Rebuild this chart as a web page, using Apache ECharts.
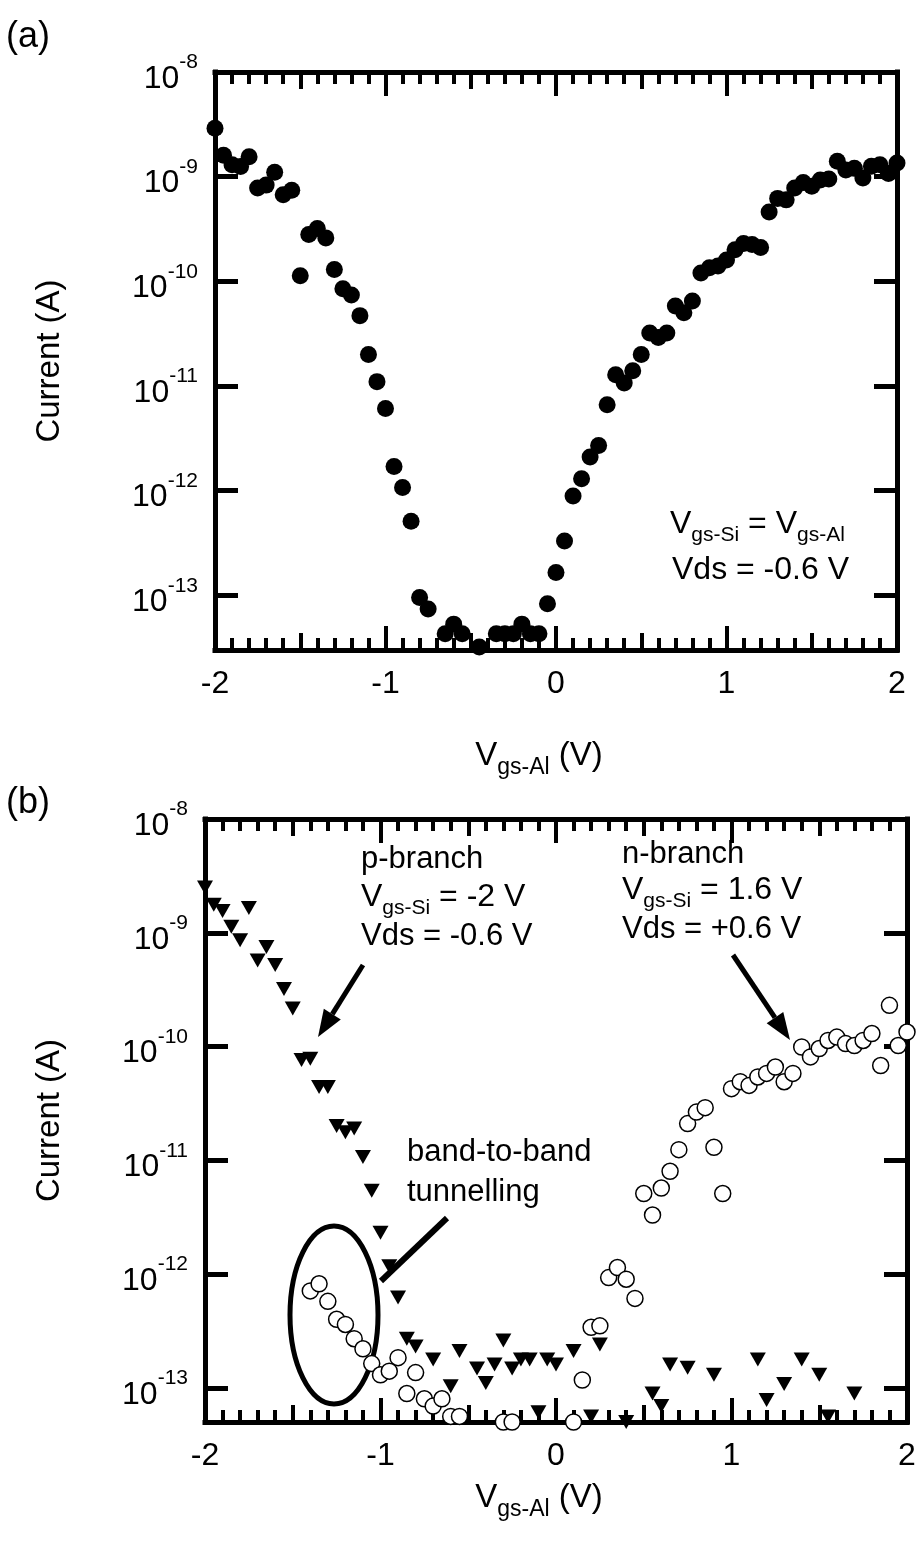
<!DOCTYPE html>
<html>
<head>
<meta charset="utf-8">
<title>Current vs Vgs-Al</title>
<script src="https://cdn.jsdelivr.net/npm/echarts@6/dist/echarts.min.js"></script>
<style>
  html, body { margin: 0; padding: 0; background: #fff; }
  #chart { width: 917px; height: 1542px; }
</style>
</head>
<body>
<div id="chart"></div>
<script>
// ---- data ----
// (a) V_gs-Si = V_gs-Al, Vds = -0.6 V
const vgsA = [-2.00, -1.95, -1.90, -1.85, -1.80, -1.75, -1.70, -1.65, -1.60, -1.55,
  -1.50, -1.45, -1.40, -1.35, -1.30, -1.25, -1.20, -1.15, -1.10, -1.05,
  -1.00, -0.95, -0.90, -0.85, -0.80, -0.75, -0.65, -0.60, -0.55, -0.45,
  -0.35, -0.30, -0.25, -0.20, -0.15, -0.10, -0.05,
  0.00, 0.05, 0.10, 0.15, 0.20, 0.25, 0.30, 0.35, 0.40, 0.45,
  0.50, 0.55, 0.60, 0.65, 0.70, 0.75, 0.80, 0.85, 0.90, 0.95,
  1.00, 1.05, 1.10, 1.15, 1.20, 1.25, 1.30, 1.35, 1.40, 1.45,
  1.50, 1.55, 1.60, 1.65, 1.70, 1.75, 1.80, 1.85, 1.90, 1.95, 2.00];
const currentA = [2.9e-9, 1.6e-9, 1.3e-9, 1.25e-9, 1.55e-9, 7.8e-10, 8.3e-10, 1.1e-9, 6.7e-10, 7.4e-10,
  1.13e-10, 2.8e-10, 3.2e-10, 2.6e-10, 1.3e-10, 8.5e-11, 7.4e-11, 4.7e-11, 2.0e-11, 1.1e-11,
  6.1e-12, 1.7e-12, 1.07e-12, 5.1e-13, 9.5e-14, 7.4e-14, 4.3e-14, 5.3e-14, 4.3e-14, 3.2e-14,
  4.3e-14, 4.3e-14, 4.3e-14, 5.3e-14, 4.3e-14, 4.3e-14, 8.3e-14,
  1.65e-13, 3.3e-13, 8.9e-13, 1.3e-12, 2.1e-12, 2.7e-12, 6.6e-12, 1.28e-11, 1.07e-11, 1.4e-11,
  2.0e-11, 3.2e-11, 2.9e-11, 3.2e-11, 5.8e-11, 5.0e-11, 6.5e-11, 1.2e-10, 1.35e-10, 1.4e-10,
  1.6e-10, 2.0e-10, 2.3e-10, 2.25e-10, 2.1e-10, 4.6e-10, 6.2e-10, 6.0e-10, 7.8e-10, 8.8e-10,
  8.1e-10, 9.3e-10, 9.5e-10, 1.4e-9, 1.16e-9, 1.2e-9, 9.7e-10, 1.26e-9, 1.3e-9, 1.07e-9, 1.35e-9];

// (b) p-branch (filled triangles): V_gs-Si = -2 V, Vds = -0.6 V
const vgsP = [-2.00, -1.95, -1.90, -1.85, -1.80, -1.75, -1.70, -1.65, -1.60, -1.55,
  -1.50, -1.45, -1.40, -1.35, -1.30, -1.25, -1.20, -1.15, -1.10, -1.05,
  -1.00, -0.95, -0.90, -0.85, -0.80, -0.70, -0.60, -0.55, -0.45, -0.40,
  -0.35, -0.30, -0.25, -0.20, -0.15, -0.10, -0.05, 0.00, 0.10, 0.20,
  0.25, 0.40, 0.55, 0.60, 0.65, 0.75, 0.90, 1.15, 1.20, 1.30,
  1.40, 1.50, 1.55, 1.70];
const currentP = [2.5e-9, 1.76e-9, 1.55e-9, 1.13e-9, 8.6e-10, 1.65e-9, 5.7e-10, 7.5e-10, 5.2e-10, 3.2e-10,
  2.16e-10, 7.6e-11, 7.8e-11, 4.4e-11, 4.4e-11, 2.0e-11, 1.76e-11, 1.9e-11, 1.07e-11, 5.4e-12,
  2.3e-12, 1.17e-12, 6.2e-13, 2.7e-13, 2.3e-13, 1.77e-13, 1.03e-13, 2.1e-13, 1.48e-13, 1.1e-13,
  1.6e-13, 2.6e-13, 1.48e-13, 1.77e-13, 1.77e-13, 6.1e-14, 1.77e-13, 1.6e-13, 2.1e-13, 5.6e-14,
  2.4e-13, 5.0e-14, 8.9e-14, 6.9e-14, 1.6e-13, 1.5e-13, 1.3e-13, 1.77e-13, 7.8e-14, 1.08e-13,
  1.77e-13, 1.3e-13, 5.6e-14, 8.9e-14];

// (b) n-branch (open circles): V_gs-Si = 1.6 V, Vds = +0.6 V
const vgsN = [-1.40, -1.35, -1.30, -1.25, -1.20, -1.15, -1.10, -1.05, -1.00, -0.95,
  -0.90, -0.85, -0.80, -0.75, -0.70, -0.65, -0.60, -0.55, -0.30, -0.25,
  0.10, 0.15, 0.20, 0.25, 0.30, 0.35, 0.40, 0.45, 0.50, 0.55,
  0.60, 0.65, 0.70, 0.75, 0.80, 0.85, 0.90, 0.95, 1.00, 1.05,
  1.10, 1.15, 1.20, 1.25, 1.30, 1.35, 1.40, 1.45, 1.50, 1.55,
  1.60, 1.65, 1.70, 1.75, 1.80, 1.85, 1.90, 1.95, 2.00];
const currentN = [7.1e-13, 8.2e-13, 5.75e-13, 4.0e-13, 3.6e-13, 2.7e-13, 2.2e-13, 1.63e-13, 1.3e-13, 1.4e-13,
  1.84e-13, 8.9e-14, 1.36e-13, 8.0e-14, 6.9e-14, 8.0e-14, 5.6e-14, 5.6e-14, 5.0e-14, 5.0e-14,
  5.0e-14, 1.17e-13, 3.4e-13, 3.5e-13, 9.3e-13, 1.14e-12, 9.0e-13, 6.1e-13, 5.1e-12, 3.3e-12,
  5.7e-12, 8.0e-12, 1.24e-11, 2.1e-11, 2.65e-11, 2.9e-11, 1.3e-11, 5.1e-12, 4.26e-11, 4.9e-11,
  4.55e-11, 5.4e-11, 5.8e-11, 6.6e-11, 4.9e-11, 5.8e-11, 9.9e-11, 8.1e-11, 9.6e-11, 1.13e-10,
  1.21e-10, 1.06e-10, 1.02e-10, 1.13e-10, 1.3e-10, 6.8e-11, 2.3e-10, 1.02e-10, 1.34e-10];

const xRange = [-2, 2];
const yMaxCurrent = 1e-8;
const yMinA = 3e-14;
const yMinB = 5e-14;

// ---- styling ----
const FONT = 'Liberation Sans, Arial, Helvetica, sans-serif';
const BLACK = '#000';

function zip(xs, ys) {
  return xs.map((x, i) => [x, ys[i]]);
}

function decadeLabel(v) {
  const e = Math.log10(v);
  const r = Math.round(e);
  if (Math.abs(e - r) > 1e-6) return '';
  return '{b|10}{s|' + r + '}';
}

const richTick = {
  b: { fontSize: 32, fontFamily: FONT, color: BLACK, padding: [14, 0, 0, 0] },
  s: { fontSize: 21, fontFamily: FONT, color: BLACK, padding: [0, 0, 19, 0] }
};
const richName = {
  n: { fontSize: 32, fontFamily: FONT, color: BLACK },
  s: { fontSize: 21, fontFamily: FONT, color: BLACK, padding: [22, 0, 0, 0] }
};
const richTitle = {
  n: { fontSize: 33, fontFamily: FONT, color: BLACK },
  s: { fontSize: 23, fontFamily: FONT, color: BLACK, padding: [24, 0, 0, 0] }
};

const grid = [];
const xAxis = [];
const yAxis = [];

// one panel = main grid (box, long + minor ticks) + overlay grid (half-volt ticks)
function addPanel(rect, yMin, yNameGap, xNameGap) {
  const g = grid.length;
  grid.push(Object.assign({ outerBoundsMode: 'none' }, rect));
  grid.push(Object.assign({ outerBoundsMode: 'none' }, rect));

  const line = { show: true, onZero: false, lineStyle: { color: BLACK, width: 5, cap: 'square' } };
  const xBase = {
    type: 'value', min: xRange[0], max: xRange[1], interval: 1,
    axisLine: line,
    axisTick: { show: true, inside: true, length: 24, lineStyle: { color: BLACK, width: 4 } },
    minorTick: { show: true, splitNumber: 10, length: 12, lineStyle: { color: BLACK, width: 4 } },
    splitLine: { show: false }, minorSplitLine: { show: false }
  };
  const xMain = Object.assign({}, xBase, {
    gridIndex: g, position: 'bottom',
    axisLabel: { show: true, margin: 18, fontSize: 32, fontFamily: FONT, color: BLACK },
    name: '{n|V}{s|gs-Al}{n| (V)}',
    nameLocation: 'middle', nameGap: xNameGap, nameMoveOverlap: false,
    nameTextStyle: { fontSize: 33, fontFamily: FONT, color: BLACK, rich: richTitle, padding: [0, 34, 0, 0] }
  });
  const xTop = Object.assign({}, xBase, { gridIndex: g, position: 'top', axisLabel: { show: false } });

  const halfTick = {
    type: 'value', min: xRange[0], max: xRange[1], interval: 0.5, gridIndex: g + 1,
    axisLine: { show: false },
    axisTick: { show: true, inside: true, length: 17, lineStyle: { color: BLACK, width: 4 } },
    axisLabel: { show: false }, splitLine: { show: false }
  };
  xAxis.push(xMain, xTop,
    Object.assign({}, halfTick, { position: 'bottom' }),
    Object.assign({}, halfTick, { position: 'top' }));

  const yBase = {
    type: 'log', logBase: 10, min: yMin, max: yMaxCurrent,
    axisLine: line,
    axisTick: { show: true, inside: true, length: 23, lineStyle: { color: BLACK, width: 5 } },
    minorTick: { show: false },
    splitLine: { show: false }, minorSplitLine: { show: false }
  };
  const yLeft = Object.assign({}, yBase, {
    gridIndex: g, position: 'left',
    axisLabel: { show: true, margin: 17, formatter: decadeLabel, rich: richTick },
    name: 'Current (A)', nameLocation: 'middle', nameGap: yNameGap, nameMoveOverlap: false,
    nameTextStyle: { fontSize: 33, fontFamily: FONT, color: BLACK }
  });
  const yRight = Object.assign({}, yBase, { gridIndex: g, position: 'right', axisLabel: { show: false } });
  yAxis.push(yLeft, yRight, { gridIndex: g + 1, type: 'value', show: false });

  return { x: xAxis.length - 4, y: yAxis.length - 3 };
}

const pa = addPanel({ left: 215, top: 72, width: 682, height: 578 }, yMinA, 149, 82);
const pb = addPanel({ left: 205, top: 819, width: 702, height: 603 }, yMinB, 139, 52);

// ---- annotations ----
function arrow(x1, y1, x2, y2) {
  const a = Math.atan2(y2 - y1, x2 - x1);
  const L = 27, W = 10;
  const bx = x2 - L * Math.cos(a), by = y2 - L * Math.sin(a);
  const px = -Math.sin(a) * W, py = Math.cos(a) * W;
  return [
    { type: 'line', shape: { x1: x1, y1: y1, x2: bx, y2: by }, style: { stroke: BLACK, lineWidth: 5 } },
    { type: 'polygon', shape: { points: [[x2, y2], [bx + px, by + py], [bx - px, by - py]] }, style: { fill: BLACK } }
  ];
}

function label(x, y, text, size) {
  return {
    type: 'text', x: x, y: y,
    style: {
      text: text, fill: BLACK, fontSize: size || 31, fontFamily: FONT,
      verticalAlign: 'middle', rich: richName
    }
  };
}

const graphic = [
  label(6, 37, '(a)', 36),
  label(6, 803, '(b)', 36),
  label(670, 524, '{n|V}{s|gs-Si}{n| = V}{s|gs-Al}'),
  label(672, 570, 'Vds = -0.6 V', 32),
  label(361, 859, 'p-branch'),
  label(361, 897, '{n|V}{s|gs-Si}{n| = -2 V}'),
  label(361, 936, 'Vds = -0.6 V'),
  label(622, 854, 'n-branch'),
  label(622, 890, '{n|V}{s|gs-Si}{n| = 1.6 V}'),
  label(622, 929, 'Vds = +0.6 V'),
  label(407, 1152, 'band-to-band'),
  label(407, 1192, 'tunnelling'),
  {
    type: 'ellipse', shape: { cx: 334, cy: 1315, rx: 44, ry: 89 },
    style: { fill: 'none', stroke: BLACK, lineWidth: 5 }
  },
  { type: 'line', shape: { x1: 447, y1: 1218, x2: 381, y2: 1281 }, style: { stroke: BLACK, lineWidth: 6 } }
].concat(arrow(363, 965, 318, 1037), arrow(733, 955, 790, 1040));

const series = [
  {
    name: 'Vgs-Si = Vgs-Al', type: 'scatter', xAxisIndex: pa.x, yAxisIndex: pa.y,
    data: zip(vgsA, currentA), symbol: 'circle', symbolSize: 17, clip: false,
    itemStyle: { color: BLACK, opacity: 1 }
  },
  {
    name: 'n-branch', type: 'scatter', xAxisIndex: pb.x, yAxisIndex: pb.y,
    data: zip(vgsN, currentN), symbol: 'circle', symbolSize: 16, clip: false,
    itemStyle: { color: '#fff', borderColor: BLACK, borderWidth: 1.5, opacity: 1 }
  },
  {
    name: 'p-branch', type: 'scatter', xAxisIndex: pb.x, yAxisIndex: pb.y,
    data: zip(vgsP, currentP), symbol: 'triangle', symbolRotate: 180, symbolSize: [16, 14], clip: false,
    itemStyle: { color: BLACK, opacity: 1 }
  }
];

const chart = echarts.init(document.getElementById('chart'), null, { renderer: 'canvas' });
chart.setOption({
  backgroundColor: '#fff',
  animation: false,
  textStyle: { fontFamily: FONT },
  grid: grid,
  xAxis: xAxis,
  yAxis: yAxis,
  series: series,
  graphic: graphic
});
</script>
</body>
</html>
